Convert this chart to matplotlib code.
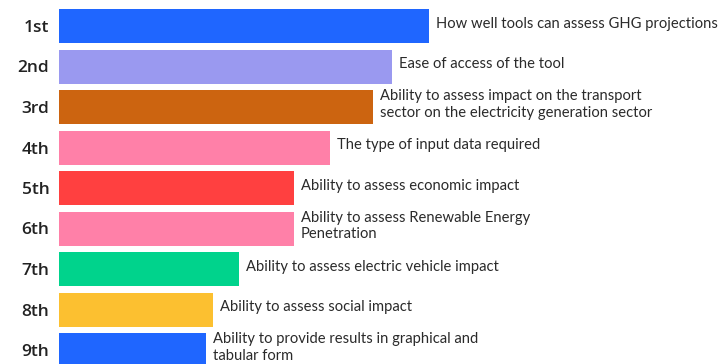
import matplotlib
matplotlib.use("Agg")
import matplotlib.pyplot as plt

ranks = ["1st", "2nd", "3rd", "4th", "5th", "6th", "7th", "8th", "9th"]
criteria = [
    "How well tools can assess GHG projections",
    "Ease of access of the tool",
    "Ability to assess impact on the transport\nsector on the electricity generation sector",
    "The type of input data required",
    "Ability to assess economic impact",
    "Ability to assess Renewable Energy\nPenetration",
    "Ability to assess electric vehicle impact",
    "Ability to assess social impact",
    "Ability to provide results in graphical and\ntabular form",
]
scores = [370, 333, 314, 271, 235, 235, 180, 154, 147]
colors = ["#1F66FF", "#9A99F0", "#CC6410", "#FF80A8", "#FF4040",
          "#FF80A8", "#00D38C", "#FCC030", "#1F66FF"]

W, H = 719, 364
fig = plt.figure(figsize=(W / 100, H / 100), dpi=100)
fig.patch.set_facecolor("white")
left_px = 59
ax = fig.add_axes([left_px / W, 0, 1 - left_px / W, 1])

pitch = 40.5
top_c = 26
ypos = list(range(len(ranks)))
ax.barh(ypos, scores, height=34 / pitch, color=colors, edgecolor="none")
ax.set_xlim(0, W - left_px)
ax.set_ylim((H - top_c) / pitch, -top_c / pitch)

for y, s, t in zip(ypos, scores, criteria):
    ax.text(s + 7, y - 0.06, t, va="center", ha="left", fontsize=10.6,
            family="Lato", color="#2a2a2a", linespacing=1.2)

ax.set_yticks(ypos)
ax.set_yticklabels(ranks, fontsize=12.5, family="Open Sans",
                   fontweight="semibold", color="#222222")
ax.tick_params(axis="y", length=0, pad=7)
ax.set_xticks([])
for sp in ax.spines.values():
    sp.set_visible(False)

fig.savefig("out.png", dpi=100, facecolor="white")
